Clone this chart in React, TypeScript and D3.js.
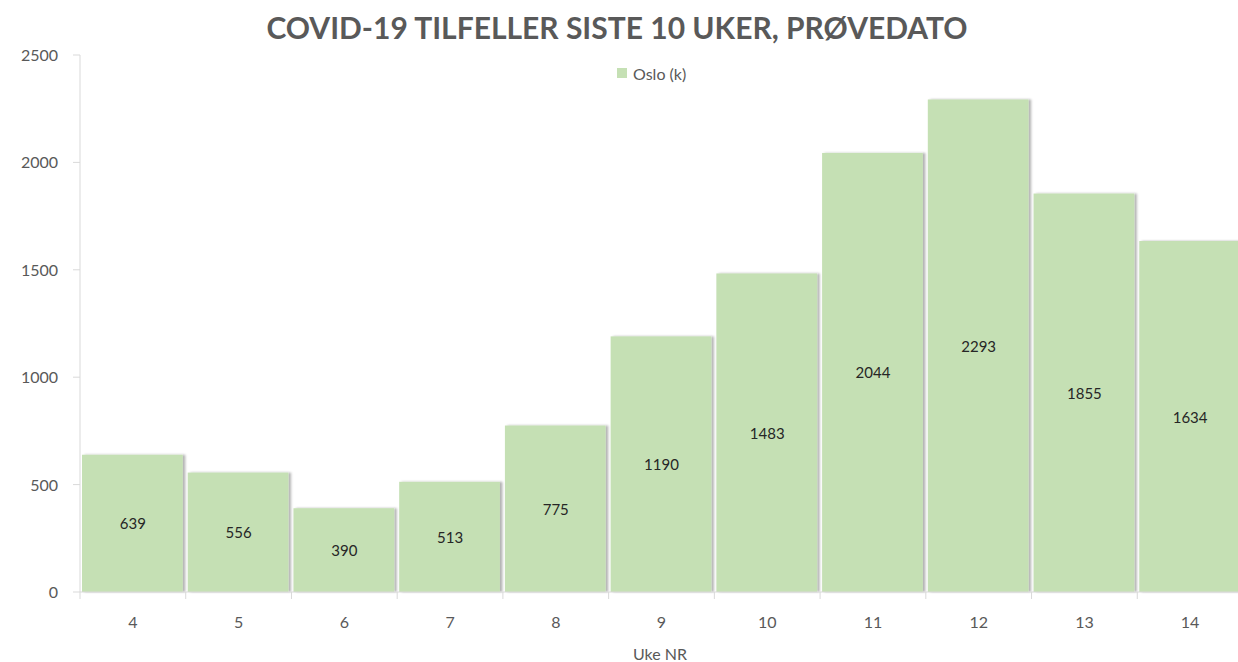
import * as d3 from 'd3';
import React from 'react';

const weeks = ['4', '5', '6', '7', '8', '9', '10', '11', '12', '13', '14'];
const cases = [639, 556, 390, 513, 775, 1190, 1483, 2044, 2293, 1855, 1634];
const yTicks = [0, 500, 1000, 1500, 2000, 2500];

const title = 'COVID-19 TILFELLER SISTE 10 UKER, PRØVEDATO';
const seriesName = 'Oslo (k)';
const xTitle = 'Uke NR';

export default function App() {
  const width = 1238;
  const height = 662;
  const left = 80;
  const right = 1243;
  const top = 55;
  const bottom = 592;
  const font = 'Lato, Calibri, sans-serif';
  const grey = '#595959';

  const x = d3.scaleBand().domain(weeks).range([left, right]).padding(0);
  const y = d3.scaleLinear().domain([0, 2500]).range([bottom, top]);

  return (
    <svg
      width={width}
      height={height}
      style={{ position: 'absolute', left: 0, top: 0, background: '#fff' }}
    >
      <defs>
        <filter id="shadow" x="-10%" y="-10%" width="130%" height="120%">
          <feDropShadow dx="2.5" dy="0" stdDeviation="1" floodColor="#000" floodOpacity="0.3" />
        </filter>
      </defs>

      <text
        x={617}
        y={39}
        textAnchor="middle"
        fontFamily={font}
        fontWeight="bold"
        fontSize={30}
        fill={grey}
      >
        {title}
      </text>

      {/* legend */}
      <rect x={617} y={68} width={10} height={10} fill="#c5e0b4" />
      <text x={633} y={80} fontFamily={font} fontSize={16} fill={grey}>
        {seriesName}
      </text>

      {/* bars */}
      {cases.map((v, i) => (
        <rect
          key={weeks[i]}
          x={(x(weeks[i]) as number) + 2}
          y={y(v)}
          width={x.bandwidth() - 5}
          height={bottom - y(v)}
          fill="#c5e0b4"
          filter="url(#shadow)"
        />
      ))}
      {cases.map((v, i) => (
        <text
          key={'l' + weeks[i]}
          x={(x(weeks[i]) as number) + x.bandwidth() / 2}
          y={(y(v) + bottom) / 2 + 6}
          textAnchor="middle"
          fontFamily={font}
          fontSize={15}
          fill="#262626"
        >
          {v}
        </text>
      ))}

      {/* y axis */}
      <line x1={left} x2={left} y1={top} y2={bottom} stroke="#d9d9d9" />
      {yTicks.map((t) => (
        <g key={t}>
          <line x1={left - 7} x2={left} y1={y(t)} y2={y(t)} stroke="#d9d9d9" />
          <text
            x={58}
            y={y(t) + 6}
            textAnchor="end"
            fontFamily={font}
            fontSize={16}
            fill={grey}
          >
            {t}
          </text>
        </g>
      ))}

      {/* x axis */}
      <line x1={left} x2={right} y1={bottom} y2={bottom} stroke="#d9d9d9" />
      {weeks.map((w) => (
        <line
          key={'t' + w}
          x1={x(w) as number}
          x2={x(w) as number}
          y1={bottom}
          y2={bottom + 7}
          stroke="#d9d9d9"
        />
      ))}
      {weeks.map((w) => (
        <text
          key={'x' + w}
          x={(x(w) as number) + x.bandwidth() / 2}
          y={628}
          textAnchor="middle"
          fontFamily={font}
          fontSize={16}
          fill={grey}
        >
          {w}
        </text>
      ))}
      <text x={660} y={660} textAnchor="middle" fontFamily={font} fontSize={16} fill={grey}>
        {xTitle}
      </text>
    </svg>
  );
}
